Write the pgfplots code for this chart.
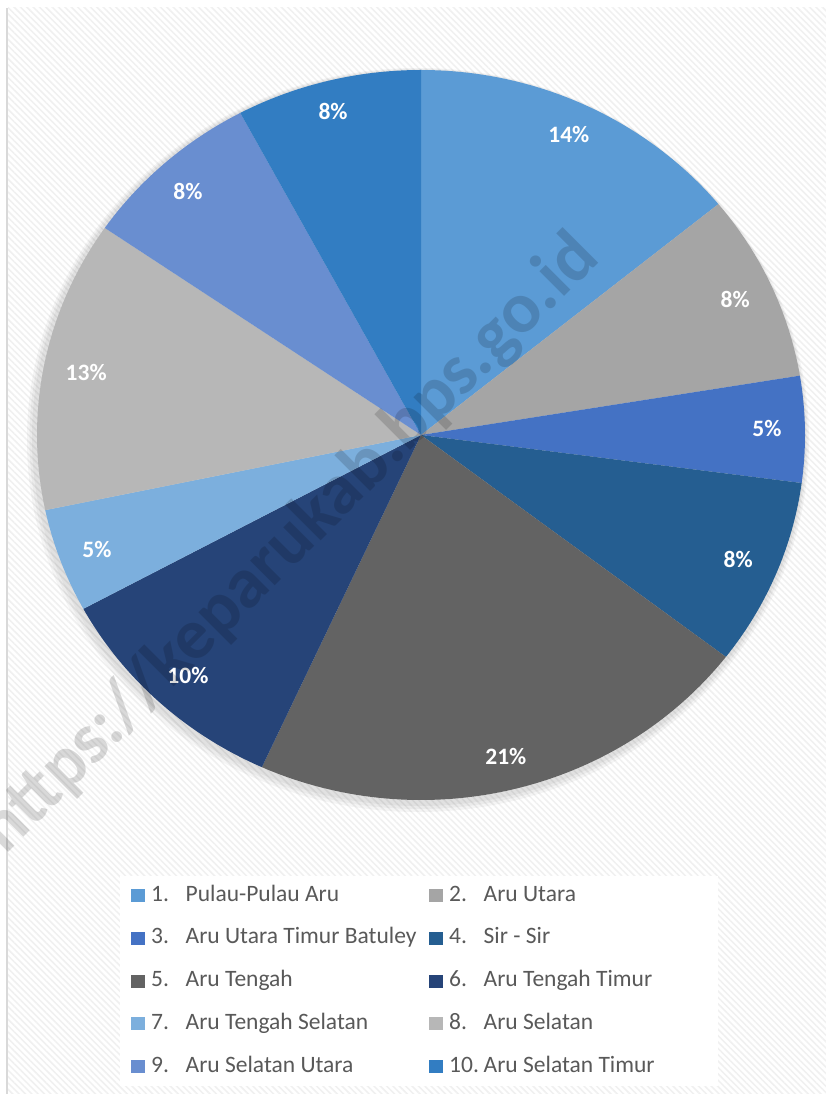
\documentclass[border=0pt]{standalone}
\usepackage{fontspec}
\setmainfont{Carlito}
\usepackage{pgfplots}
\pgfplotsset{compat=1.18}
\usetikzlibrary{patterns.meta}
\definecolor{c1}{HTML}{5B9BD5}
\definecolor{c2}{HTML}{A5A5A5}
\definecolor{c3}{HTML}{4472C4}
\definecolor{c4}{HTML}{255E91}
\definecolor{c5}{HTML}{636363}
\definecolor{c6}{HTML}{264478}
\definecolor{c7}{HTML}{7CAFDD}
\definecolor{c8}{HTML}{B7B7B7}
\definecolor{c9}{HTML}{698ED0}
\definecolor{c10}{HTML}{327DC2}
\definecolor{legtxt}{HTML}{595959}
\pgfplotsset{slice/.style={draw=none, data cs=polar, samples=80}}
\tikzset{lab/.style={font=\fontsize{23.5}{28}\selectfont\bfseries, text=white}}
\newcommand{\entry}[2]{\makebox[272pt][l]{\makebox[34.5pt][l]{#1}#2}}
\newcommand{\entryb}[2]{\makebox[258pt][l]{\makebox[34.5pt][l]{#1}#2}}
\begin{document}
\begin{tikzpicture}[x=1pt,y=1pt]
\useasboundingbox (0,0) rectangle (826,1094);
\fill[white] (0,0) rectangle (826,1094);
\fill[pattern={Lines[angle=-45,distance=4.5pt,line width=1.5pt]}, pattern color=black!6] (8,0) rectangle (826,1086);
\draw[black!15, line width=2pt] (7,0) -- (7,1086);
\fill[black,opacity=0.04] (418,654) ellipse [x radius=391, y radius=372];
\fill[black,opacity=0.04] (418.5,655) ellipse [x radius=389, y radius=370];
\fill[black,opacity=0.04] (419,656) ellipse [x radius=387, y radius=368];
\begin{axis}[at={(421pt,659pt)}, anchor=center,
  width=768pt, height=730pt, scale only axis,
  xmin=-1, xmax=1, ymin=-1, ymax=1,
  hide axis, clip=false,
  legend columns=2, legend cell align=left,
  legend image code/.code={\fill[#1] (0pt,-6.5pt) rectangle (14pt,6.5pt);},
  legend style={at={(0.10807,-0.10411)}, anchor=north west, draw=none, fill=white,
    inner xsep=11pt, inner ysep=8pt,
    font=\fontsize{23.5}{28}\selectfont, text=legtxt,
    column sep=6pt, row sep=19.7pt,
    nodes={inner sep=0pt, text height=17pt, text depth=6pt}}]
% slices: shares (%) 14.1, 8.3, 4.7, 8.3, 21.4, 10.3, 4.6, 12.9, 7.6, 7.8 clockwise from the top
\addplot[slice, fill=c1, domain=39.24:90] {1} -- (axis cs:0,0) -- cycle;
\addlegendentry{\entry{1.}{Pulau-Pulau Aru}}
\addplot[slice, fill=c2, domain=9.36:39.24] {1} -- (axis cs:0,0) -- cycle;
\addlegendentry{\entryb{2.}{Aru Utara}}
\addplot[slice, fill=c3, domain=-7.56:9.36] {1} -- (axis cs:0,0) -- cycle;
\addlegendentry{\entry{3.}{Aru Utara Timur Batuley}}
\addplot[slice, fill=c4, domain=-37.44:-7.56] {1} -- (axis cs:0,0) -- cycle;
\addlegendentry{\entryb{4.}{Sir - Sir}}
\addplot[slice, fill=c5, domain=-114.48:-37.44] {1} -- (axis cs:0,0) -- cycle;
\addlegendentry{\entry{5.}{Aru Tengah}}
\addplot[slice, fill=c6, domain=-151.56:-114.48] {1} -- (axis cs:0,0) -- cycle;
\addlegendentry{\entryb{6.}{Aru Tengah Timur}}
\addplot[slice, fill=c7, domain=-168.12:-151.56] {1} -- (axis cs:0,0) -- cycle;
\addlegendentry{\entry{7.}{Aru Tengah Selatan}}
\addplot[slice, fill=c8, domain=-214.56:-168.12] {1} -- (axis cs:0,0) -- cycle;
\addlegendentry{\entryb{8.}{Aru Selatan}}
\addplot[slice, fill=c9, domain=-241.92:-214.56] {1} -- (axis cs:0,0) -- cycle;
\addlegendentry{\entry{9.}{Aru Selatan Utara}}
\addplot[slice, fill=c10, domain=-270:-241.92] {1} -- (axis cs:0,0) -- cycle;
\addlegendentry{\entryb{10.}{Aru Selatan Timur}}
\node[lab] at (axis cs:0.385,0.822) {14\%};
\node[lab] at (axis cs:0.818,0.370) {8\%};
\node[lab] at (axis cs:0.901,0.019) {5\%};
\node[lab] at (axis cs:0.826,-0.342) {8\%};
\node[lab] at (axis cs:0.221,-0.882) {21\%};
\node[lab] at (axis cs:-0.607,-0.658) {10\%};
\node[lab] at (axis cs:-0.844,-0.315) {5\%};
\node[lab] at (axis cs:-0.872,0.170) {13\%};
\node[lab] at (axis cs:-0.607,0.666) {8\%};
\node[lab] at (axis cs:-0.229,0.885) {8\%};
\end{axis}
\node[rotate=45, font=\fontsize{72}{80}\selectfont\bfseries, text=black, text opacity=0.15] at (290,550) {https://keparukab.bps.go.id};
\end{tikzpicture}
\end{document}
